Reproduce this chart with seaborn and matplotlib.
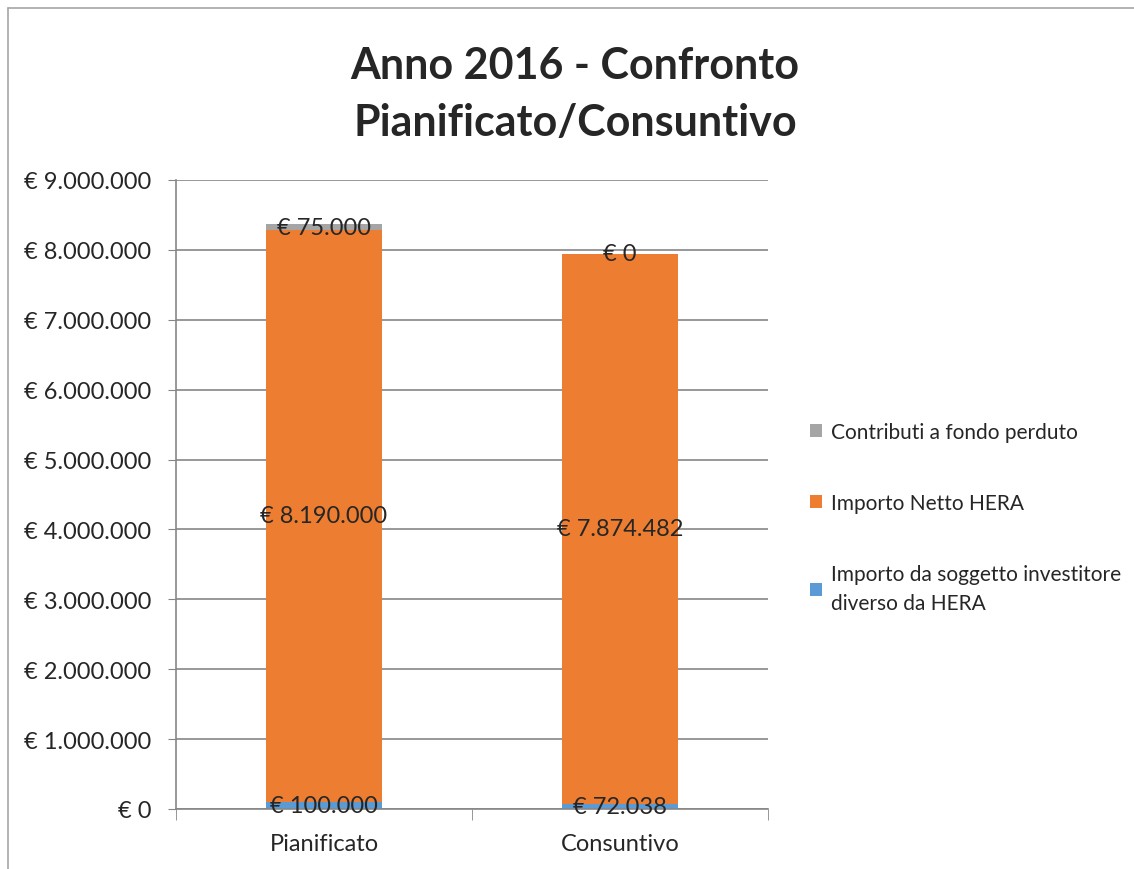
import matplotlib.pyplot as plt
import seaborn as sns
import pandas as pd
from matplotlib.patches import Patch
from matplotlib.ticker import FuncFormatter

# dati
categorie = ['Pianificato', 'Consuntivo']
soggetto_investitore = [100000, 72038]
netto_hera = [8190000, 7874482]
contributi = [75000, 0]
y_ticks = list(range(0, 9000001, 1000000))

serie = ['Contributi a fondo perduto', 'Importo Netto HERA',
         'Importo da soggetto investitore\ndiverso da HERA']
colori = ['#A5A5A5', '#ED7D31', '#5B9BD5']

def euro(v):
    return '€ ' + f"{int(round(v)):,}".replace(',', '.')

sns.set_style('white')
plt.rcParams['font.family'] = ['Lato', 'DejaVu Sans']

df = pd.DataFrame({'cat': categorie, 'blu': soggetto_investitore,
                   'arancio': netto_hera, 'grigio': contributi})
df['cum_blu'] = df['blu']
df['cum_arancio'] = df['blu'] + df['arancio']
df['cum_grigio'] = df['cum_arancio'] + df['grigio']

fig = plt.figure(figsize=(11.34, 8.7), dpi=100)
ax = fig.add_axes([176 / 1134, 1 - 810 / 870, (768 - 176) / 1134, (810 - 181) / 870])

# barre impilate: si disegnano i cumulati dall'alto verso il basso
for col, c in [('cum_grigio', colori[0]), ('cum_arancio', colori[1]), ('cum_blu', colori[2])]:
    sns.barplot(data=df, x='cat', y=col, color=c, width=0.39, ax=ax,
                saturation=1, linewidth=0)

fs = 17
ax.set_ylim(0, 9000000)
ax.set_xlim(-0.5, 1.5)
ax.set_yticks(y_ticks)
ax.yaxis.set_major_formatter(FuncFormatter(lambda v, p: euro(v)))
ax.set_xlabel('')
ax.set_ylabel('')
ax.tick_params(axis='y', labelsize=fs, length=6, color='#868686', pad=12, left=True)
ax.tick_params(axis='x', labelsize=fs, length=0, pad=17)
ax.set_xticks([-0.5, 0.5, 1.5], minor=True)
ax.tick_params(axis='x', which='minor', length=8, color='#868686', bottom=True)
ax.grid(axis='y', color='#868686', linewidth=1.2)
ax.set_axisbelow(True)
for s in ['top', 'right']:
    ax.spines[s].set_visible(False)
for s in ['left', 'bottom']:
    ax.spines[s].set_color('#868686')
    ax.spines[s].set_linewidth(1.2)

# etichette dei valori al centro dei segmenti
for i, row in df.iterrows():
    ax.text(i, row['blu'] / 2, euro(row['blu']), ha='center', va='center', fontsize=fs)
    ax.text(i, row['blu'] + row['arancio'] / 2, euro(row['arancio']),
            ha='center', va='center', fontsize=fs)
    ax.text(i, row['cum_arancio'] + row['grigio'] / 2, euro(row['grigio']),
            ha='center', va='center', fontsize=fs)

fig.text(575 / 1134, 1 - 66 / 870, 'Anno 2016 - Confronto', ha='center', va='center',
         fontsize=31, fontweight='bold')
fig.text(575 / 1134, 1 - 123 / 870, 'Pianificato/Consuntivo', ha='center', va='center',
         fontsize=31, fontweight='bold')

handles = [Patch(facecolor=c, edgecolor='none') for c in colori]
leg = fig.legend(handles, serie, loc='upper left', bbox_to_anchor=(791 / 1134, 1 - 404 / 870),
                 frameon=False, fontsize=15, handlelength=0.6, handleheight=0.6,
                 handletextpad=0.4, labelspacing=2.45)
for t in leg.get_texts():
    t.set_linespacing(1.6)

# bordo del grafico
fig.add_artist(plt.Line2D([8 / 1134, 8 / 1134], [0, 1 - 9 / 870], color='#A6A6A6',
                          linewidth=1.2, transform=fig.transFigure))
fig.add_artist(plt.Line2D([8 / 1134, 1], [1 - 9 / 870, 1 - 9 / 870], color='#A6A6A6',
                          linewidth=1.2, transform=fig.transFigure))

fig.savefig('out.png', dpi=100)
